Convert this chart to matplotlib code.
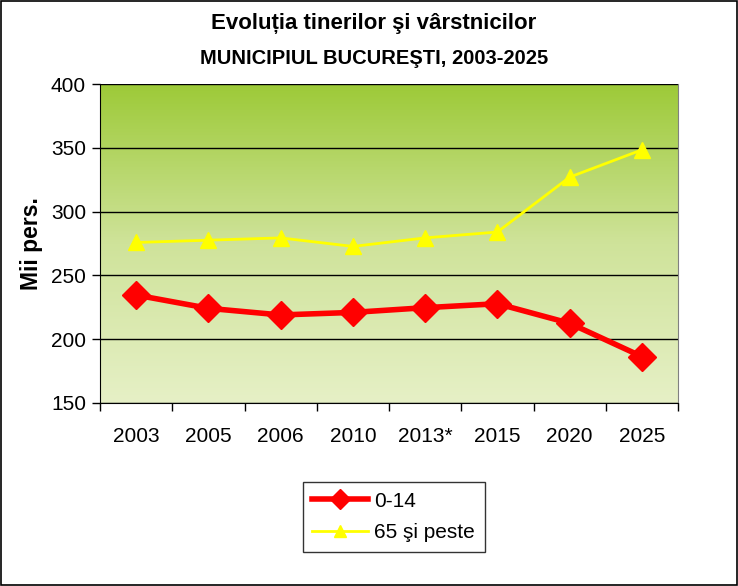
import matplotlib
matplotlib.use("Agg")
import matplotlib.pyplot as plt
import numpy as np
from matplotlib.colors import LinearSegmentedColormap
from matplotlib.patches import Rectangle

years = ["2003", "2005", "2006", "2010", "2013*", "2015", "2020", "2025"]
young = [234.6, 224.2, 219.0, 221.0, 224.7, 227.8, 212.5, 186.4]
old = [275.8, 277.6, 279.4, 272.7, 279.4, 284.0, 327.0, 348.4]

plt.rcParams['font.family'] = ['Liberation Sans', 'DejaVu Sans']

fig = plt.figure(figsize=(7.38, 5.86), dpi=100)
W, H = 738, 586
ax = fig.add_axes([100 / W, 1 - 403 / H, 578 / W, 319 / H])

# frame around figure
fig.patches.append(Rectangle((0.002, 0.002), 0.996, 0.996, transform=fig.transFigure,
                             fill=False, edgecolor='black', linewidth=1.2))

cmap = LinearSegmentedColormap.from_list('g', ['#e6f0c6', '#cfe39a', '#9dca38'])
grad = np.linspace(0, 1, 256).reshape(-1, 1)
ax.imshow(grad, aspect='auto', cmap=cmap, origin='lower',
          extent=[0, 1, 0, 1], transform=ax.transAxes, zorder=0)

x = np.arange(len(years))
ax.plot(x, old, color='#ffff00', linewidth=2, marker='^', markersize=11,
        markeredgecolor='#ffff00', label='65 şi peste', zorder=3)
ax.plot(x, young, color='#ff0000', linewidth=4, marker='D', markersize=14,
        markeredgecolor='#ff0000', label='0-14', zorder=4)

ax.set_xlim(-0.5, len(years) - 0.5)
ax.set_ylim(150, 400)
ax.set_yticks([150, 200, 250, 300, 350, 400])
ax.yaxis.grid(True, color='black', linewidth=1)
for gl in ax.get_ygridlines():
    gl.set_zorder(1)

ax.set_xticks(x)
ax.set_xticklabels(years)
ax.set_xticks(np.arange(-0.5, len(years), 1), minor=True)
ax.tick_params(axis='x', which='major', length=0, pad=17, labelsize=15)
ax.tick_params(axis='x', which='minor', length=6, width=1, color='black')
ax.tick_params(axis='y', length=6, width=1, labelsize=15, pad=4)

ax.spines['top'].set_visible(False)
ax.spines['right'].set_color('#808080')
ax.spines['left'].set_color('black')
ax.spines['bottom'].set_color('black')

ax.set_ylabel('Mii pers.', fontsize=16.5, fontweight='bold', labelpad=6)

fig.text(374 / W, 1 - 23 / H, 'Evoluția tinerilor şi vârstnicilor', ha='center', va='center',
         fontsize=16, fontweight='bold')
fig.text(374 / W, 1 - 58 / H, 'MUNICIPIUL BUCUREŞTI, 2003-2025', ha='center', va='center',
         fontsize=14.5, fontweight='bold')

h, l = ax.get_legend_handles_labels()
leg = fig.legend([h[1], h[0]], [l[1], l[0]], loc='center',
                 bbox_to_anchor=(393.5 / W, 1 - 517 / H), fontsize=15, frameon=True,
                 fancybox=False, edgecolor='black', handlelength=2.7,
                 markerscale=0.75, borderpad=0.45, labelspacing=0.6, handletextpad=0.3)
leg.get_frame().set_linewidth(1)

fig.savefig('out.png', dpi=100)
